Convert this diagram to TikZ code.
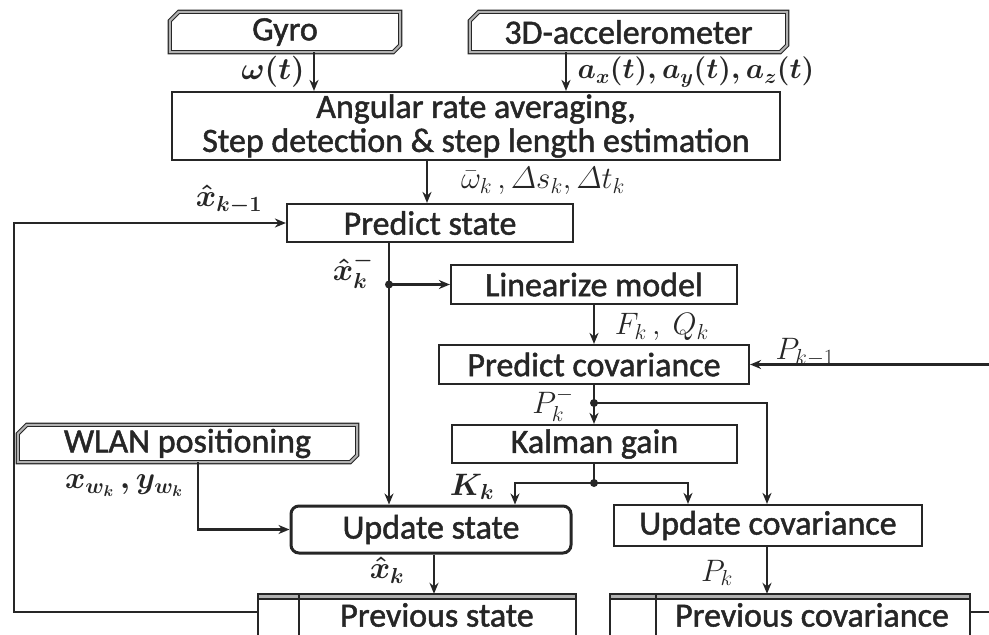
\documentclass[tikz,border=0pt]{standalone}
\usepackage{fix-cm}
\usepackage{amsmath}
\usepackage[no-math]{fontspec}
\setmainfont{Carlito}
\newfontfamily\boxfnt[FakeBold=1.4]{Carlito}
\usetikzlibrary{arrows.meta,calc}
\tikzset{
  ink/.style={draw=black!85, line width=2.2pt},
  arr/.style={ink, -{Stealth[length=11pt,width=9pt]}},
  boxfont/.style={font=\boxfnt\fontsize{34}{34}\selectfont, text=black!85},
  blk/.style={ink, rectangle, inner sep=0pt, boxfont, align=center},
  srcbox/.style={rectangle, draw=none, inner sep=0pt, boxfont},
  srcedge/.style={draw=black!85, line width=1.1pt, double=black!30, double distance=2pt},
  lbl/.style={inner sep=0pt, font=\fontsize{31}{31}\selectfont, text=black!85},
  jdot/.style={circle, fill=black!85, inner sep=0pt, minimum size=8pt},
}
\newcommand\chamferedge[1]{%
  \draw[srcedge] ([xshift=9pt]#1.north west) -- (#1.north east) -- ([yshift=7pt]#1.south east)
    -- ([xshift=-7pt]#1.south east) -- (#1.south west) -- ([yshift=-9pt]#1.north west) -- cycle;}
% data store outline: #1 node, #2 width of the index cell
\newcommand\storeedge[2]{%
  \fill[black!30] (#1.north west) rectangle ([yshift=-5pt]#1.north east);
  \draw[ink] (#1.south west) -- (#1.north west) -- (#1.north east) -- (#1.south east);
  \draw[ink] ([yshift=-5pt]#1.north west) -- ([yshift=-5pt]#1.north east);
  \draw[ink] ([xshift=#2]#1.north west) -- ([xshift=#2]#1.south west);}
\begin{document}
\begin{tikzpicture}[x=1pt,y=-1pt]
\useasboundingbox (0,0) rectangle (989,635);
\clip (0,0) rectangle (989,635);
\fill[white] (0,0) rectangle (989,635);

% sensors and preprocessing
\node[srcbox, minimum width=230pt, minimum height=40pt] (gyro) at (285,32) {Gyro};
\node[srcbox, minimum width=317pt, minimum height=40pt] (acc) at (628.5,32) {3D-accelerometer};
\chamferedge{gyro}
\chamferedge{acc}
\node[blk, minimum width=608pt, minimum height=68pt] (proc) at (476,126)
  {Angular rate averaging,\\Step detection \& step length estimation};

% filter blocks
\node[blk, minimum width=286pt, minimum height=38pt] (pst) at (430,223) {Predict state};
\node[blk, minimum width=286pt, minimum height=39pt] (lin) at (594,284.5) {Linearize model};
\node[blk, minimum width=310pt, minimum height=39pt] (pcov) at (594,364.5) {Predict covariance};
\node[blk, minimum width=285pt, minimum height=38pt] (kal) at (594.5,444) {Kalman gain};
\node[srcbox, minimum width=339pt, minimum height=37pt] (wlan) at (187.5,443.5) {WLAN positioning};
\chamferedge{wlan}
\node[blk, line width=3pt, rounded corners=8pt, minimum width=280pt, minimum height=47pt] (ust) at (431,529.5) {Update state};
\node[blk, minimum width=308pt, minimum height=41pt] (ucov) at (768,525.5) {Update covariance};

% data stores
\node[srcbox, minimum width=318pt, minimum height=50pt] (prs) at (417,619) {};
\node[srcbox, minimum width=360pt, minimum height=50pt] (prc) at (790,619) {};
\storeedge{prs}{41pt}
\storeedge{prc}{46pt}
\node[srcbox] (prst) at (437,615) {Previous state};
\node[srcbox] (prct) at (812,615) {Previous covariance};

% junctions and loop corners
\coordinate (j1) at (389,284.5);
\coordinate (j2) at (594,403);
\coordinate (j3) at (594,483);
\coordinate (lp) at (14,223);
\coordinate (rin) at (989,364.5);
\coordinate (rout) at (989,612);

% connectors
\draw[arr] ([xshift=29pt]gyro.south) -- ([xshift=29pt]gyro.south |- proc.north);
\draw[arr] ([xshift=-62.5pt]acc.south) -- ([xshift=-62.5pt]acc.south |- proc.north);
\draw[arr] ([xshift=-49pt]proc.south) -- ([xshift=-49pt]proc.south |- pst.north);
\draw[ink] (j1 |- pst.south) -- (j1);
\draw[arr] (j1) -- (lin.west);
\draw[arr] (j1) -- (j1 |- ust.north);
\draw[arr] (lin.south) -- (pcov.north);
\draw[arr] (rin) -- (pcov.east);
\draw[ink] (j2 |- pcov.south) -- (j2);
\draw[arr] (j2) -- (j2 |- kal.north);
\draw[arr] (j2) -| ([xshift=-1pt]ucov.north);
\draw[ink] (j3 |- kal.south) -- (j3);
\draw[arr] (j3) -| ([xshift=84pt]ust.north);
\draw[arr] (j3) -| ([xshift=-80pt]ucov.north);
\draw[arr] ([xshift=10.5pt]wlan.south) |- (ust.west);
\draw[arr] ([xshift=3pt]ust.south) -- ([xshift=3pt]ust.south |- prs.north);
\draw[arr] ([xshift=-1pt]ucov.south) -- ([xshift=-1pt]ucov.south |- prc.north);
\draw[arr] ([yshift=7pt]prs.west) -| (lp) -- (pst.west);
\draw[ink] ([yshift=7pt]prc.east) -- (rout);

\node[jdot] (d1) at (j1) {};
\node[jdot] (d2) at (j2) {};
\node[jdot] (d3) at (j3) {};

% signal labels
\node[lbl] (lw) at (273,72) {$\boldsymbol{\omega(t)}$};
\node[lbl, font=\fontsize{29}{29}\selectfont] (la) at (696,72) {$\boldsymbol{a_x(t), a_y(t), a_z(t)}$};
\node[lbl] (lo) at (543,181) {$\bar{\omega}_k\,, \varDelta s_k, \varDelta t_k$};
\node[lbl] (lx1) at (229,200) {$\boldsymbol{\hat{x}_{k-1}}$};
\node[lbl] (lxm) at (353,271) {$\boldsymbol{\hat{x}_k^-}$};
\node[lbl] (lf) at (662,327) {$F_k\,,\ Q_k$};
\node[lbl] (lp1) at (805,352) {$P_{k-1}$};
\node[lbl] (lpm) at (553,405) {$P_k^-$};
\node[lbl] (lk) at (472,487) {$\boldsymbol{K_k}$};
\node[lbl] (lxy) at (124,486) {$\boldsymbol{x_{w_k}\,, y_{w_k}}$};
\node[lbl] (lxk) at (387,570) {$\boldsymbol{\hat{x}_k}$};
\node[lbl] (lpk) at (717,573) {$P_k$};
\end{tikzpicture}
\end{document}
